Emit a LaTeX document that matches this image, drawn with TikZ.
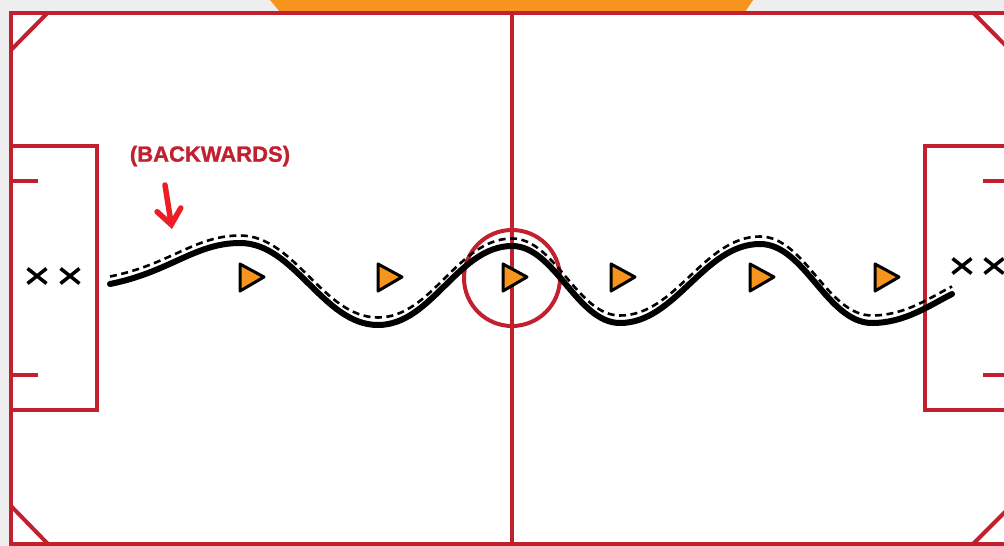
\documentclass[tikz,border=0pt]{standalone}
\usepackage{fontspec}
\setmainfont{Liberation Sans}[BoldFont={Liberation Sans Bold}]
\newfontfamily\labelfont{Liberation Sans Bold}[FakeBold=1.2]
\usetikzlibrary{arrows.meta}
\definecolor{bgcol}{HTML}{EEEEEE}
\definecolor{fieldred}{HTML}{C1202F}
\definecolor{conecol}{HTML}{F7941D}
\definecolor{arrowred}{HTML}{EE1C25}
\newcommand\mywavepath{(110,284) .. controls (170,272) and (195,243) .. (240,243)
  .. controls (295,243) and (323,325) .. (378,325)
  .. controls (432,325) and (458,246) .. (512,246)
  .. controls (555,246) and (577,323) .. (620,323)
  .. controls (676,323) and (704,244) .. (760,244)
  .. controls (805,244) and (827,323) .. (872,323)
  .. controls (905,323) and (930,305) .. (952,294)}
\begin{document}
\begin{tikzpicture}[x=1pt,y=-1pt,
  fieldline/.style={draw=fieldred, line width=4pt},
  conestyle/.style={fill=conecol, draw=black, line width=3pt, line join=round},
  xmarkstyle/.style={draw=black, line width=3.5pt},
  runline/.style={draw=black, line width=6pt, line cap=round},
  passline/.style={draw=black, line width=2.6pt, dash pattern=on 7pt off 4.5pt}]
\useasboundingbox (0,0) rectangle (1004,546);
\clip (0,0) rectangle (1004,546);
\fill[bgcol] (0,0) rectangle (1004,546);
\fill[conecol] (270,0) -- (753,0) -- (745,12) -- (280,12) -- cycle;
\fill[white] (11,12.5) rectangle (1010,544);
% outline
\draw[fieldline] (1010,12.5) -- (11,12.5) -- (11,544) -- (1010,544);
% corners
\draw[fieldline] (11,50) -- (48,12.5);
\draw[fieldline] (11,506) -- (48,544);
\draw[fieldline] (973,12.5) -- (1010,50);
\draw[fieldline] (973,544) -- (1010,507);
% halfway line and circle
\draw[fieldline] (512,12.5) -- (512,544);
\coordinate (centre) at (512,278);
\draw[fieldline] (centre) circle[radius=48];
% left box
\draw[fieldline] (11,145.5) -- (97,145.5) -- (97,410) -- (11,410);
\draw[fieldline] (11,181) -- (38,181);
\draw[fieldline] (11,375) -- (38,375);
% right box
\draw[fieldline] (1010,146) -- (925,146) -- (925,410) -- (1010,410);
\draw[fieldline] (983,181) -- (1010,181);
\draw[fieldline] (983,375) -- (1010,375);
% wave
\draw[runline] \mywavepath;
\draw[passline, yshift=7.5pt] \mywavepath;
% cones
\foreach \cx in {240,378,503,611,750,875}{
  \draw[conestyle] (\cx,264) -- (\cx+24,277) -- (\cx,291) -- cycle;
}
% x marks
\foreach \mx/\my in {37/276, 70/276, 962/266, 994/266}{
  \draw[xmarkstyle] (\mx-9.5,\my-7.5) -- (\mx+9.5,\my+7.5);
  \draw[xmarkstyle] (\mx-9.5,\my+7.5) -- (\mx+9.5,\my-7.5);
}
% label and arrow
\node[text=fieldred, font=\labelfont\fontsize{22}{26}\selectfont, inner sep=0pt] (label) at (210,156) {(BACKWARDS)};
\coordinate (arrS) at (165,185);
\coordinate (arrE) at (172,229);
\draw[draw=arrowred, line width=5.5pt, line cap=round, -{Straight Barb[length=15pt,width=24pt,line cap=round]}] (arrS) -- (arrE);
\end{tikzpicture}
\end{document}
